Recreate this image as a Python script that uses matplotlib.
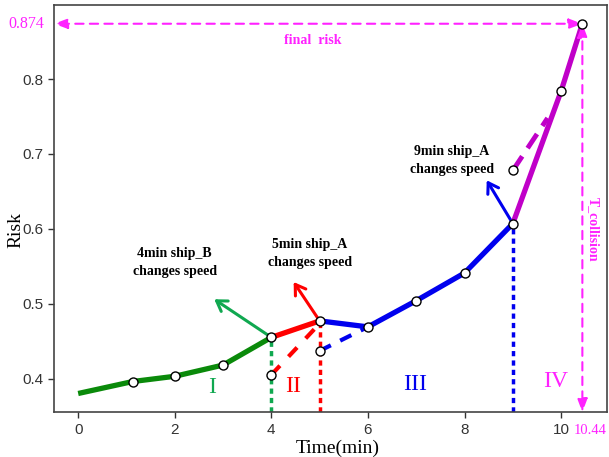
import matplotlib.pyplot as plt
import numpy as np

# ---- data ----
green_x = [0, 1.13, 2, 3, 4]
green_y = [0.380, 0.396, 0.403, 0.418, 0.455]
red_x = [4, 5]
red_y = [0.455, 0.477]
blue_x = [5, 6, 7, 8, 9]
blue_y = [0.477, 0.469, 0.504, 0.541, 0.607]
mag_x = [9, 10, 10.44]
mag_y = [0.607, 0.784, 0.874]

red_dash_x = [4, 4.95]
red_dash_y = [0.405, 0.470]
blue_dash_x = [5, 6]
blue_dash_y = [0.437, 0.469]
mag_dash_x = [9, 9.72]
mag_dash_y = [0.678, 0.748]

final_risk = 0.874
t_collision = 10.44

xticks = [0, 2, 4, 6, 8, 10]
yticks = [0.4, 0.5, 0.6, 0.7, 0.8]

serif = ['Liberation Serif', 'DejaVu Serif']
sans = ['Liberation Sans', 'DejaVu Sans']

fig = plt.figure(figsize=(6.09, 4.57), dpi=100)
ax = fig.add_axes([0.0887, 0.098, 0.908, 0.891])
ax.set_xlim(-0.5, 10.95)
ax.set_ylim(0.355, 0.899)

C_GREEN = '#0a8a0a'
C_LGREEN = '#10a850'
C_RED = '#ff0000'
C_BLUE = '#0000ee'
C_MAG = '#c000c8'
C_PINK = '#ff22ff'

lw = 3.8
# vertical dotted lines
ax.plot([4, 4], [0.355, green_y[-1]], color=C_LGREEN, lw=2.5, ls=(0, (1.5, 1.2)), zorder=2)
ax.plot([5, 5], [0.355, red_y[-1]], color=C_RED, lw=2.5, ls=(0, (1.5, 1.2)), zorder=2)
ax.plot([9, 9], [0.355, blue_y[-1]], color=C_BLUE, lw=2.5, ls=(0, (1.5, 1.2)), zorder=2)

# dashed alternative lines
ax.plot(red_dash_x, red_dash_y, color=C_RED, lw=3, ls=(0, (3, 3)), zorder=3)
ax.plot(blue_dash_x, blue_dash_y, color=C_BLUE, lw=3, ls=(0, (3, 2.5)), zorder=3)
ax.plot(mag_dash_x, mag_dash_y, color=C_MAG, lw=3.5, ls=(0, (3.5, 2)), zorder=3)

# main lines
ax.plot(green_x, green_y, color=C_GREEN, lw=lw, solid_capstyle='butt', zorder=4)
ax.plot(red_x, red_y, color=C_RED, lw=lw, zorder=4)
ax.plot(blue_x, blue_y, color=C_BLUE, lw=lw, zorder=4)
ax.plot(mag_x, mag_y, color=C_MAG, lw=lw, zorder=4)

# direction arrows
arrow_kw = dict(arrowstyle='->,head_length=0.7,head_width=0.45', lw=2.2)
ax.annotate('', xy=(2.77, 0.508), xytext=(4, 0.455),
            arrowprops=dict(color=C_LGREEN, **arrow_kw), zorder=3)
ax.annotate('', xy=(4.43, 0.532), xytext=(5, 0.477),
            arrowprops=dict(color=C_RED, **arrow_kw), zorder=3)
ax.annotate('', xy=(8.43, 0.668), xytext=(9, 0.607),
            arrowprops=dict(color=C_BLUE, **arrow_kw), zorder=3)

# markers
mk = dict(marker='o', ms=6.5, mfc='white', mec='black', mew=1.0, ls='none', zorder=6)
ax.plot(green_x[1:], green_y[1:], **mk)
ax.plot(red_x[1:], red_y[1:], **mk)
ax.plot(blue_x[1:], blue_y[1:], **mk)
ax.plot(mag_x[1:], mag_y[1:], **mk)
ax.plot([red_dash_x[0], blue_dash_x[0], mag_dash_x[0]],
        [red_dash_y[0], blue_dash_y[0], mag_dash_y[0]], **mk)

# final risk horizontal double arrow
ax.annotate('', xy=(-0.5, final_risk), xytext=(t_collision, final_risk),
            arrowprops=dict(arrowstyle='<|-|>,head_length=0.8,head_width=0.3',
                            color=C_PINK, lw=1.5, ls=(0, (4, 3)),
                            shrinkA=0, shrinkB=0), zorder=5)
ax.text(4.85, 0.852, 'final  risk', color=C_PINK, fontsize=10, fontweight='bold',
        family=serif, ha='center', va='center')
# T_collision vertical double arrow
ax.annotate('', xy=(t_collision, 0.355), xytext=(t_collision, final_risk),
            arrowprops=dict(arrowstyle='<|-|>,head_length=0.8,head_width=0.3',
                            color=C_PINK, lw=1.5, ls=(0, (4, 3)),
                            shrinkA=0, shrinkB=0), zorder=5)
ax.text(10.67, 0.6, 'T_collision', color=C_PINK, fontsize=10, fontweight='bold',
        family=serif, ha='center', va='center', rotation=-90)

# extra tick-like labels
ax.text(-0.7, final_risk, '0.874', color=C_PINK, fontsize=11.5, family=serif,
        ha='right', va='center', clip_on=False)
ax.text(10.27, 0.331, '10.44', color=C_PINK, fontsize=10.5, family=serif,
        ha='left', va='center', clip_on=False)

# event annotations
ev_kw = dict(fontsize=10, fontweight='bold', family=serif, ha='center', va='center',
             linespacing=1.45)
ax.text(2.0, 0.555, '4min ship_B\nchanges speed', **ev_kw)
ax.text(4.8, 0.567, '5min ship_A\nchanges speed', **ev_kw)
ax.text(7.74, 0.691, '9min ship_A\nchanges speed', **ev_kw)

# stage numerals
ax.text(2.77, 0.388, 'I', color=C_LGREEN, fontsize=17, family=serif, ha='center', va='center')
ax.text(4.45, 0.390, 'II', color=C_RED, fontsize=17, family=serif, ha='center', va='center')
ax.text(6.98, 0.392, 'III', color=C_BLUE, fontsize=17, family=serif, ha='center', va='center')
ax.text(9.88, 0.396, 'IV', color=C_PINK, fontsize=17, family=serif, ha='center', va='center')

ax.set_xticks(xticks)
ax.set_yticks(yticks)
ax.set_xticklabels([str(v) for v in xticks], family=sans, fontsize=11, color='#333333')
ax.set_yticklabels([f'{v:.1f}' for v in yticks], family=sans, fontsize=11, color='#333333')
ax.tick_params(direction='out', length=4, width=1, color='#333333')
for s in ax.spines.values():
    s.set_color('#444444')
    s.set_linewidth(1.2)

ax.set_xlabel('Time(min)', family=serif, fontsize=14)
ax.xaxis.set_label_coords(0.513, -0.068)
ax.set_ylabel('Risk', family=serif, fontsize=14)
ax.yaxis.set_label_coords(-0.054, 0.447)

fig.savefig('out.png', dpi=100)
